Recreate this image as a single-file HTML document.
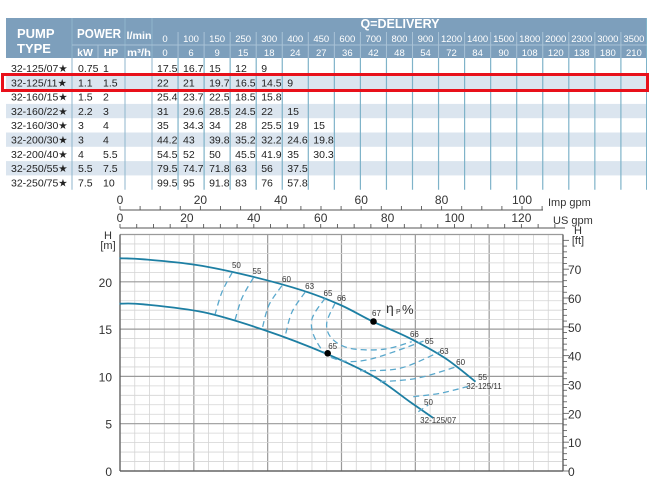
<!DOCTYPE html>
<html><head><meta charset="utf-8"><style>
body{margin:0;background:#fff;width:650px;height:477px;overflow:hidden}
svg{position:absolute;left:0;top:0}
text{font-family:"Liberation Sans",sans-serif}
</style></head><body>
<svg id="s" width="650" height="477" xmlns="http://www.w3.org/2000/svg"></svg>
<script>
const s=document.getElementById('s');let h='';
function L(x1,y1,x2,y2,c,w,extra){h+=`<line x1="${x1}" y1="${y1}" x2="${x2}" y2="${y2}" stroke="${c}" stroke-width="${w}" ${extra||''}/>`;}
function T(x,y,t,sz,c,a,b,tl){h+=`<text x="${x}" y="${y}" font-size="${sz}" fill="${c}" ${a?`text-anchor="${a}"`:''} ${b?'font-weight="bold"':''} ${tl?`textLength="${tl}" lengthAdjust="spacingAndGlyphs"`:''}>${t}</text>`;}
function R(x,y,w,hh,f,extra){h+=`<rect x="${x}" y="${y}" width="${w}" height="${hh}" fill="${f}" ${extra||''}/>`;}
const HC='#7d9fbc';
R(6,18,641,40,HC);
const cols=['0','100','150','250','300','400','450','600','700','800','900','1200','1400','1500','1800','2000','2300','3000','3500'];
const m3=['0','6','9','15','18','24','27','36','42','48','54','72','84','90','108','120','138','180','210'];
const rows=[['32-125/07★','0.75','1',['17.5','16.7','15','12','9']],
['32-125/11★','1.1','1.5',['22','21','19.7','16.5','14.5','9']],
['32-160/15★','1.5','2',['25.4','23.7','22.5','18.5','15.8']],
['32-160/22★','2.2','3',['31','29.6','28.5','24.5','22','15']],
['32-160/30★','3','4',['35','34.3','34','28','25.5','19','15']],
['32-200/30★','3','4',['44.2','43','39.8','35.2','32.2','24.6','19.8']],
['32-200/40★','4','5.5',['54.5','52','50','45.5','41.9','35','30.3']],
['32-250/55★','5.5','7.5',['79.5','74.7','71.8','63','56','37.5']],
['32-250/75★','7.5','10',['99.5','95','91.8','83','76','57.8']]];
const y0=61,rh=14.3;
rows.forEach((r,i)=>{const y=y0+i*rh;if(i%2==1)R(6,y,641,rh,'#dbe5ef');
 const ty=y+11;T(11,ty,r[0],10.5,'#222');T(78,ty,r[1],10.5,'#222');T(103,ty,r[2],10.5,'#222');
 r[3].forEach((v,j)=>T(157+j*26.05,ty,v,10.5,'#222'));});
const yb=y0+9*rh;
[72,125,152].forEach(x=>L(x,18,x,yb,'#8fb6cc',1));
for(let j=1;j<19;j++){const x=152+j*26.05;L(x,32,x,58,'#a8c2d6',1);L(x,58,x,yb,'#7fb3c9',1.2);}
L(646.5,18,646.5,yb,'#7fb3c9',1);
L(72,45,647,45,'#a8c2d6',1);L(98,45,98,58,'#a8c2d6',1);
T(17,38,'PUMP',13,'#fff','',1);T(17,53,'TYPE',13,'#fff','',1);
T(77,38,'POWER',13,'#fff','',1,44);T(85,56,'kW',10.5,'#fff','middle',1);T(111,56,'HP',10.5,'#fff','middle',1);
T(139,39,'l/min',10.5,'#fff','middle',1,25);T(139,56,'m³/h',10,'#fff','middle',1,24);
T(400,28,'Q=DELIVERY',12.5,'#fff','middle',1);
cols.forEach((c,j)=>{const x=165+j*26.05;T(x,42,c,9.5,'#fff','middle');T(x,56,m3[j],9.5,'#fff','middle');});
R(2.5,74.5,645,16,'none','stroke="#e8101a" stroke-width="3"');
// chart
const X0=120,X1=563,Yb=471,Yt=234.5,px=(X1-X0)/30,py=(Yb-Yt)/25;
for(let q=0;q<=30;q++){const x=X0+q*px;L(x,Yt,x,Yb,q%5?'#d4d4d4':'#9a9a9a',q%5?0.8:1.2);}
for(let m=0;m<=25;m++){const y=Yb-m*py;L(X0,y,X1,y,m%5?'#d4d4d4':'#9a9a9a',m%5?0.8:1.2);}
L(X0,Yt,X0,Yb,'#555',1.2);L(X1,Yt,X1,Yb,'#555',1.2);L(X0,Yb,X1,Yb,'#555',1.2);
[0,5,10,15,20].forEach(m=>T(112,Yb-m*py+5,m,12,'#333','end'));
T(108,239,'H',11,'#333','middle');T(108,249,'[m]',11,'#333','middle');
const pf=py*0.3048;
for(let f=0;f<=80;f+=2){const y=Yb-f*pf;if(y<Yt)break;L(X1,y,X1+(f%10?4:6),y,'#555',0.8);}
for(let f=0;f<=70;f+=10)T(568,Yb-f*pf+5,f,12,'#333');
T(578,234,'H',11,'#333','middle');T(578,244,'[ft]',11,'#333','middle');
L(X0,210,543,210,'#555',1);L(X0,228,565,228,'#555',1);
const pi=4.02,pu=3.345;
for(let g=0;g<=105;g+=5){const x=X0+g*pi;L(x,210,x,206,'#555',0.9);}
for(let g=0;g<=130;g+=5){const x=X0+g*pu;L(x,228,x,224,'#555',0.9);}
[0,20,40,60,80,100].forEach(g=>T(X0+g*pi,204,g,12,'#333','middle'));
[0,20,40,60,80,100,120].forEach(g=>T(X0+g*pu,222,g,12,'#333','middle'));
T(548,206,'Imp gpm',11,'#333');T(553,224,'US gpm',11,'#333');
const CC='#1d7fa3',DC='#5aa8cc';
function smooth(p){let d=`M${p[0][0]},${p[0][1]}`;for(let i=0;i<p.length-1;i++){const p0=p[i-1]||p[i],p1=p[i],p2=p[i+1],p3=p[i+2]||p2;
 d+=` C${p1[0]+(p2[0]-p0[0])/6},${p1[1]+(p2[1]-p0[1])/6} ${p2[0]-(p3[0]-p1[0])/6},${p2[1]-(p3[1]-p1[1])/6} ${p2[0]},${p2[1]}`;}return d;}
function P(pts,c,w,d){h+=`<path d="${smooth(pts)}" fill="none" stroke="${c}" stroke-width="${w}" ${d?'stroke-dasharray="6,4"':''}/>`;}
P([[119.5,258.3],[143.3,259.3],[196.6,265],[249.9,276],[303.2,290.7],[340.5,305],[373.2,321.7],[409.8,338.3],[445.3,358.3],[475.5,381.7]],CC,1.8);
P([[119.5,303.7],[143.3,304.3],[203.7,312.3],[264.1,330],[326.3,353.7],[374.2,376.7],[409.8,401.7],[432.9,417.7]],CC,1.8);
P([[232.1,272.7],[222,292],[215.1,314.3]],DC,1.3,1);
P([[253.4,277.7],[242,298],[235,320]],DC,1.3,1);
P([[281.9,285.7],[269,305],[262.3,328.3]],DC,1.3,1);
P([[305,292.3],[292,312],[285.4,335]],DC,1.3,1);
P([[325,298.3],[311.7,320],[316.7,341.7],[333.3,358.3],[366.7,360],[426.7,340]],DC,1.3,1);
P([[335,303.3],[326.7,323.3],[331.7,338.3],[350,348.3],[383.3,349.3],[411.7,341.7]],DC,1.3,1);
P([[360,370.7],[400,368.3],[440,351.7]],DC,1.3,1);
P([[380,381.7],[416.7,378.3],[456.7,366.7]],DC,1.3,1);
P([[413.3,396.7],[440,393.3],[470,386]],DC,1.3,1);
P([[418.3,411.7],[428.3,405]],DC,1.3,1);
h+=`<circle cx="373.5" cy="321.5" r="3.3" fill="#000"/><circle cx="327.7" cy="353.3" r="3.3" fill="#000"/>`;
const lb=[[236.4,268,'50'],[257,274,'55'],[286.5,282,'60'],[309.6,289,'63'],[328,296,'65'],[341.5,301,'66'],[376.5,316,'67'],
[414.4,337,'66'],[429.3,344,'65'],[444.2,354,'63'],[460.6,365,'60'],[482.6,380,'55'],[484,389,'32-125/11'],[332.7,349,'65'],[428.5,405,'50'],[438.2,423,'32-125/07']];
lb.forEach(a=>T(a[0],a[1],a[2],8,'#333','middle'));
T(386,313,'η',14,'#333');T(396,314,'P',7,'#333');T(402,314,'%',13,'#333');
s.innerHTML=h;
</script>
</body></html>
